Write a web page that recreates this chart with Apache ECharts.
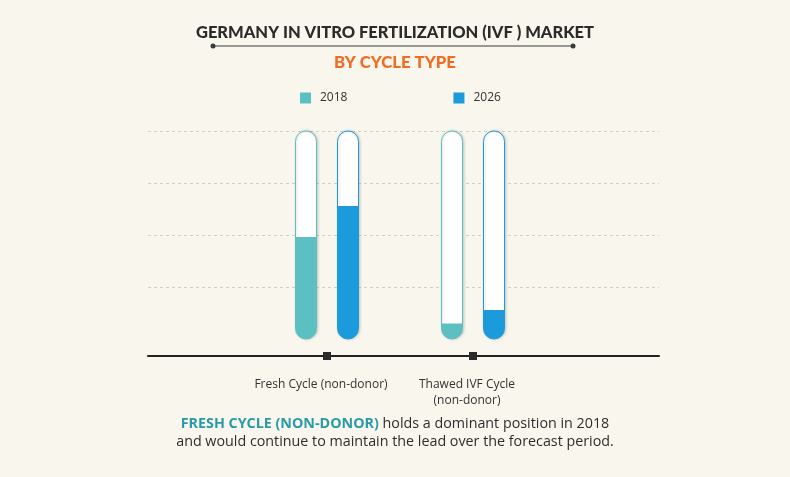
<!DOCTYPE html>
<html>
<head>
<meta charset="utf-8">
<script src="https://cdn.jsdelivr.net/npm/echarts@6/dist/echarts.min.js"></script>
<style>
html,body{margin:0;padding:0;background:#f9f6ed;}
#chart{width:790px;height:477px;}
</style>
</head>
<body>
<div id="chart"></div>
<script>
const categories = ['Fresh Cycle (non-donor)', 'Thawed IVF Cycle\n(non-donor)'];
const seriesNames = ['2018', '2026'];
const values2018 = [49, 7.5];
const values2026 = [64, 14];
const yTicks = [0, 25, 50, 75, 100];

const teal = '#5cbfc1';
const blue = '#1b9bdb';

const chart = echarts.init(document.getElementById('chart'));
const makeSeries = (name, data, color) => ({
  name: name,
  type: 'bar',
  xAxisIndex: 1,
  yAxisIndex: 1,
  data: data,
  barWidth: 21,
  barGap: '100%',
  itemStyle: { color: color, borderRadius: [0, 0, 11, 11] },
  showBackground: true,
  backgroundStyle: {
    color: '#ffffff',
    borderColor: color,
    borderWidth: 1,
    borderRadius: 11,
    shadowBlur: 3,
    shadowOffsetX: 1,
    shadowColor: 'rgba(0,0,0,0.18)'
  },
  emphasis: { disabled: true }
});

chart.setOption({
  backgroundColor: '#f9f6ed',
  animation: false,
  title: [
    {
      text: 'GERMANY IN VITRO FERTILIZATION (IVF ) MARKET',
      left: 'center', top: 19,
      textStyle: { fontFamily: 'Lato', fontWeight: 900, fontSize: 16.5, color: '#2b2b2b' }
    },
    {
      text: 'BY CYCLE TYPE',
      left: 'center', top: 49,
      textStyle: { fontFamily: 'Lato', fontWeight: 900, fontSize: 16.8, color: '#f26b21' }
    },
    {
      text: '{b|FRESH CYCLE (NON-DONOR)} holds a dominant position in 2018\nand would continue to maintain the lead over the forecast period.',
      left: 'center', top: 410,
      textStyle: {
        fontFamily: 'Open Sans', fontSize: 14.3, fontWeight: 'normal', color: '#2e2e2e', lineHeight: 18, align: 'center',
        rich: { b: { fontFamily: 'Open Sans', fontSize: 14.3, fontWeight: 'bold', color: '#2a9ba6', lineHeight: 18 } }
      }
    }
  ],
  legend: {
    data: seriesNames,
    left: 295, top: 87,
    itemWidth: 11, itemHeight: 11, itemGap: 106,
    icon: 'rect',
    textStyle: { fontFamily: 'Open Sans', fontSize: 12, color: '#333', padding: [0, 0, 0, 4] },
    selectedMode: false
  },
  grid: [
    { left: 148, right: 131, top: 131, bottom: 138 },
    { left: 254, right: 244, top: 131, bottom: 138 }
  ],
  xAxis: [
    {
      type: 'value', gridIndex: 0, min: 0, max: 1,
      offset: 17,
      axisLine: { show: true, onZero: false, lineStyle: { color: '#222', width: 2 } },
      axisTick: { show: false }, axisLabel: { show: false }, splitLine: { show: false }
    },
    {
      type: 'category', gridIndex: 1, data: categories,
      offset: 13,
      axisLine: { show: false, onZero: false },
      axisTick: { show: true, interval: 0, alignWithLabel: true, length: 8, lineStyle: { color: '#2a2a2a', width: 8, cap: 'butt' } },
      axisLabel: { interval: 0, margin: 25, fontFamily: 'Open Sans', fontSize: 12, color: '#333', lineHeight: 16, padding: [0, 12, 0, 0], hideOverlap: false }
    }
  ],
  yAxis: [
    {
      type: 'value', gridIndex: 0, min: yTicks[0], max: yTicks[yTicks.length - 1], interval: 25,
      axisLine: { show: false }, axisTick: { show: false }, axisLabel: { show: false },
      splitLine: { show: true, showMinLine: false, lineStyle: { color: '#d3cfc6', type: [3, 3], width: 1 } }
    },
    {
      type: 'value', gridIndex: 1, min: yTicks[0], max: yTicks[yTicks.length - 1], interval: 25,
      axisLine: { show: false }, axisTick: { show: false }, axisLabel: { show: false }, splitLine: { show: false }
    }
  ],
  graphic: [
    { type: 'line', shape: { x1: 213, y1: 46, x2: 573, y2: 46 }, style: { stroke: '#3a3a3a', lineWidth: 1 } },
    { type: 'circle', shape: { cx: 213, cy: 46, r: 2.5 }, style: { fill: '#3a3a3a' } },
    { type: 'circle', shape: { cx: 573, cy: 46, r: 2.5 }, style: { fill: '#3a3a3a' } }
  ],
  series: [
    makeSeries(seriesNames[0], values2018, teal),
    makeSeries(seriesNames[1], values2026, blue)
  ]
});
</script>
</body>
</html>
